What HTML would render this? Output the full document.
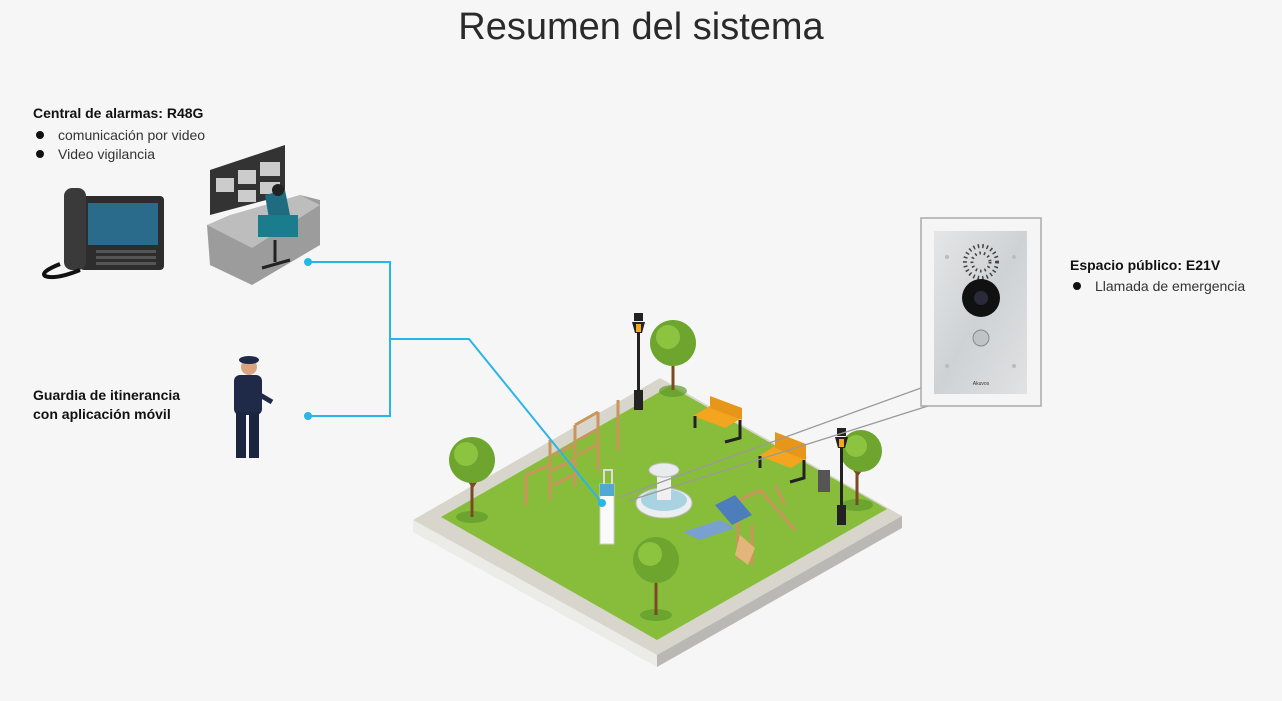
<!DOCTYPE html>
<html><head><meta charset="utf-8"><style>
html,body{margin:0;padding:0;background:#f6f6f6;}
body{width:1282px;height:701px;position:relative;overflow:hidden;font-family:"Liberation Sans",sans-serif;color:#111;}
.t{position:absolute;}
h1{position:absolute;left:0;width:1282px;top:6px;margin:0;text-align:center;font-weight:normal;font-size:38px;color:#2a2a2a;letter-spacing:0;}
.b{font-weight:bold;font-size:14px;}
.l{font-size:14px;color:#333;}
.dot{display:inline-block;width:8px;height:8px;border-radius:50%;background:#111;margin:0 14px 1px 3px;}
svg{position:absolute;left:0;top:0;}
</style></head><body>
<h1>Resumen del sistema</h1>
<svg width="1282" height="701" viewBox="0 0 1282 701">
<defs>
<linearGradient id="st" x1="0" y1="0" x2="1" y2="1"><stop offset="0" stop-color="#e4e6e8"/><stop offset="0.5" stop-color="#cfd2d4"/><stop offset="1" stop-color="#e0e2e4"/></linearGradient>
</defs>
<polygon points="660,378 413,520 657,655 902,516" fill="#d8d5cc"/>
<polygon points="413,520 657,655 657,667 413,532" fill="#ebebe8"/>
<polygon points="657,655 902,516 902,528 657,667" fill="#b9b8b4"/>
<polygon points="670,386 441,517 657,640 887,509" fill="#88bd3c"/>
<g fill="#5f9a2a" opacity="0.7">
<ellipse cx="673" cy="391" rx="14" ry="6"/><ellipse cx="472" cy="517" rx="16" ry="6"/><ellipse cx="656" cy="615" rx="16" ry="6"/><ellipse cx="857" cy="505" rx="16" ry="6"/>
</g>
<g>
<g stroke="#7a4a23" stroke-width="3" fill="none"><path d="M673 390 L673 360 L665 348 M673 362 L682 350"/><path d="M472 517 L472 485 L464 472 M472 487 L480 475"/><path d="M656 615 L656 580 L648 567 M656 582 L664 570"/><path d="M857 505 L857 473 L849 462 M857 475 L865 464"/></g>
<g fill="#6da52e"><circle cx="673" cy="343" r="23"/><circle cx="472" cy="460" r="23"/><circle cx="656" cy="560" r="23"/><circle cx="861" cy="451" r="21"/></g>
<g fill="#8cc33f"><circle cx="668" cy="337" r="12"/><circle cx="466" cy="454" r="12"/><circle cx="650" cy="554" r="12"/><circle cx="856" cy="446" r="11"/></g>
</g>
<g fill="#222"><rect x="637" y="330" width="3" height="80"/><rect x="634" y="390" width="9" height="20"/><polygon points="632,322 645,322 642,333 635,333"/><rect x="634" y="313" width="9" height="8"/>
<rect x="840" y="445" width="3" height="80"/><rect x="837" y="505" width="9" height="20"/><polygon points="835,437 848,437 845,448 838,448"/><rect x="837" y="428" width="9" height="8"/></g>
<rect x="636" y="324" width="5" height="8" fill="#f5a623"/><rect x="839" y="439" width="5" height="8" fill="#f5a623"/>
<g><polygon points="693,416 725,428 742,418 710,406" fill="#f3a51f"/><polygon points="710,396 742,408 742,420 710,408" fill="#e8961a"/><path d="M695 416 L695 428 M740 420 L740 438 L725 442" stroke="#222" stroke-width="3" fill="none"/>
<polygon points="759,456 791,468 807,458 775,446" fill="#f3a51f"/><polygon points="775,432 806,444 806,460 775,448" fill="#e8961a"/><path d="M760 456 L760 468 M804 460 L804 478 L790 482" stroke="#222" stroke-width="3" fill="none"/></g>
<rect x="818" y="470" width="12" height="22" fill="#555"/>
<g stroke="#c9955a" stroke-width="3" fill="none"><path d="M550 500 L550 440 M575 425 L575 487 M598 412 L598 470 M618 400 L618 450 M575 425 L598 412 M526 505 L526 475 L550 465"/><path d="M553 455 L573 445 M553 470 L573 460 M553 485 L573 475 M578 440 L596 430 M578 455 L596 445"/></g>
<ellipse cx="664" cy="503" rx="28" ry="15" fill="#eceff0" stroke="#bbb"/><ellipse cx="664" cy="500" rx="23" ry="11" fill="#a9d3e0"/><rect x="657" y="475" width="14" height="25" fill="#f0f0f0"/><ellipse cx="664" cy="470" rx="15" ry="7" fill="#e8ecee" stroke="#bbb"/>
<g stroke="#c9955a" stroke-width="3" fill="none"><path d="M760 490 L795 530 M775 485 L785 505 M760 490 L730 505 M738 520 L738 560 M752 525 L752 565"/></g>
<polygon points="715,505 735,495 752,515 732,525" fill="#4d7dbb"/>
<polygon points="683,532 720,520 735,528 700,540" fill="#7aa0d0"/>
<polygon points="740,535 755,548 748,565 735,555" fill="#e3b57a"/>
<rect x="600" y="484" width="14" height="60" fill="#fafafa" stroke="#ccc"/><rect x="600" y="484" width="14" height="12" fill="#4fa9d6"/><path d="M604 484 L604 470 L612 470 L612 484" stroke="#ddd" stroke-width="2" fill="none"/>
<g stroke="#29b6e6" stroke-width="2" fill="none"><path d="M308 262 H390 V416 H308"/><path d="M390 339 H469 L602 503"/></g>
<g fill="#29b6e6"><circle cx="308" cy="262" r="4"/><circle cx="308" cy="416" r="4"/><circle cx="602" cy="503" r="4"/></g>
<g stroke="#9a9a9a" stroke-width="1.3" fill="none"><path d="M921 388 L620 497"/><path d="M928 406 L628 501"/></g>
<rect x="921" y="218" width="120" height="188" fill="#f5f5f5" stroke="#aaa" stroke-width="1.5"/>
<rect x="934" y="231" width="93" height="163" fill="url(#st)"/>
<g fill="#333"><circle cx="981" cy="262" r="16" fill="none" stroke="#444" stroke-width="4" stroke-dasharray="1.5 3"/><circle cx="981" cy="262" r="9" fill="none" stroke="#444" stroke-width="3" stroke-dasharray="1.5 3"/></g>
<circle cx="981" cy="298" r="19" fill="#111"/><circle cx="981" cy="298" r="7" fill="#2a2a3a"/>
<circle cx="981" cy="338" r="8" fill="#bfc3c6" stroke="#888"/>
<g fill="#bbb"><circle cx="947" cy="257" r="2"/><circle cx="1014" cy="257" r="2"/><circle cx="947" cy="366" r="2"/><circle cx="1014" cy="366" r="2"/></g>
<text x="981" y="385" font-size="5" text-anchor="middle" fill="#333" font-family="Liberation Sans">Akuvox</text>
<rect x="80" y="196" width="84" height="74" rx="4" fill="#2d2d2d"/><rect x="88" y="203" width="70" height="42" fill="#2a6a8a"/><rect x="64" y="188" width="22" height="82" rx="8" fill="#3a3a3a"/>
<g fill="#555"><rect x="96" y="250" width="60" height="3"/><rect x="96" y="256" width="60" height="3"/><rect x="96" y="262" width="60" height="3"/></g>
<path d="M60 264 q-20 8 -15 12 q10 4 35 -6" stroke="#111" stroke-width="4" fill="none"/>
<polygon points="207,225 300,195 320,200 320,245 252,285 210,265" fill="#9c9c9c"/>
<polygon points="207,225 252,248 320,205 300,195 230,215" fill="#bdbdbd"/>
<polygon points="210,170 285,145 285,195 210,215" fill="#333"/>
<g fill="#ccc"><rect x="216" y="178" width="18" height="14"/><rect x="238" y="170" width="18" height="14"/><rect x="260" y="162" width="20" height="14"/><rect x="238" y="190" width="18" height="12"/><rect x="260" y="182" width="20" height="12"/></g>
<path d="M265 195 L285 190 L290 215 L270 225 Z" fill="#1f6b80"/><circle cx="278" cy="190" r="6" fill="#222"/>
<rect x="258" y="215" width="40" height="22" fill="#1a7d8e"/><path d="M275 240 L275 262 M262 268 L290 260" stroke="#222" stroke-width="3"/>
<rect x="234" y="375" width="28" height="40" rx="6" fill="#1f2a48"/><rect x="236" y="412" width="10" height="46" fill="#1c2540"/><rect x="249" y="412" width="10" height="46" fill="#1c2540"/><circle cx="249" cy="367" r="8" fill="#d9a47f"/><ellipse cx="249" cy="360" rx="10" ry="4" fill="#1f2a48"/><path d="M260 395 L272 402" stroke="#1f2a48" stroke-width="5"/>
</svg>
<div class="t b" style="left:33px;top:105px;">Central de alarmas: R48G</div>
<div class="t l" style="left:33px;top:127px;"><span class="dot"></span>comunicación por video</div>
<div class="t l" style="left:33px;top:146px;"><span class="dot"></span>Video vigilancia</div>
<div class="t b" style="left:33px;top:386px;line-height:19px;">Guardia de itinerancia<br>con aplicación móvil</div>
<div class="t b" style="left:1070px;top:257px;">Espacio público: E21V</div>
<div class="t l" style="left:1070px;top:278px;"><span class="dot"></span>Llamada de emergencia</div>
</body></html>
